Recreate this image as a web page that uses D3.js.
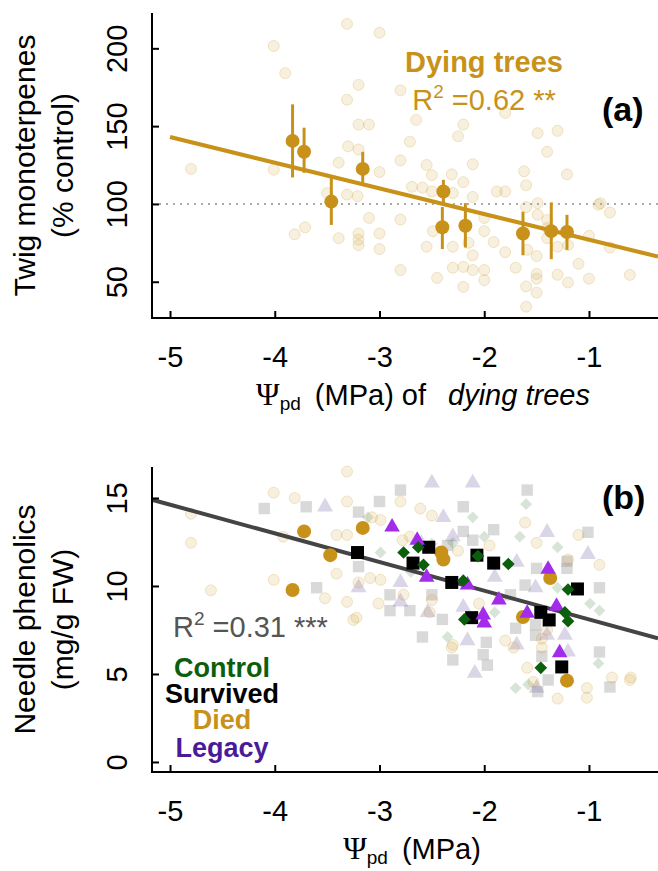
<!DOCTYPE html>
<html><head><meta charset="utf-8">
<script src="https://cdn.jsdelivr.net/npm/d3@7"></script>
<style>body{margin:0;background:#fff}svg{display:block}text{font-family:"Liberation Sans",Arial,sans-serif}</style>
</head><body><svg id="c" width="658" height="871"></svg>
<script>
// ---------- DATA ----------
const xTicks = [-5, -4, -3, -2, -1];
const yTicksA = [50, 100, 150, 200];
const yTicksB = [0, 5, 10, 15];

// Panel (a): individual dying-tree observations (x = Psi_pd, y = % control)
const aPtsX = [-4.80,-4.01,-3.90,-4.01,-3.81,-3.71,-3.50,-3.31,-3.00,-3.20,-3.31,-3.20,-3.10,-2.80,-2.65,-2.20,-2.25,-2.71,-1.80,-1.49,-1.30,-1.40,-3.30,-3.20,-3.39,-3.00,-2.80,-2.55,-2.50,-2.20,-2.11,-2.31,-2.69,-2.59,-2.50,-1.62,-1.60,-1.88,-1.80,-1.21,-1.60,-1.49,-0.89,-0.80,-3.31,-3.21,-3.39,-3.20,-3.20,-3.20,-3.00,-3.00,-3.10,-2.80,-2.80,-2.55,-2.49,-2.45,-2.30,-2.30,-2.20,-2.20,-2.11,-2.00,-2.00,-2.11,-2.15,-2.00,-2.00,-1.91,-1.80,-1.70,-1.59,-1.50,-1.50,-1.50,-1.60,-1.50,-1.60,-1.40,-1.40,-1.30,-1.20,-1.20,-1.10,-1.00,-1.00,-0.80,-0.91,-0.61,-2.30,-2.11,-1.49,-1.40,-1.30];
const aPtsY = [122.5,201.5,184,122,80.5,85,107,215.7,210,176.5,167,151,151,173,154,151,143.5,140,158.5,145.5,147,133.5,137,135,126.5,120.5,128,125,118.5,114,125.5,119,111,110.5,108,121,112,108,108,119,98,100.5,100.5,94.5,106,105,78,81,77,73.5,81,71,91,90,57.5,72.5,82.5,52.5,72.5,59,59.5,46.7,57.5,57.5,51,67,75,82.5,91,75.5,69,59,70.5,66.5,55,52,47,43,34,78,84.5,54.5,49.5,73.6,61.5,52,79.5,72,99.5,54.4,107,104.5,93,89.7,72.5];

// Panel (a): binned means with error bars
const aMeanX  = [-3.83,-3.72,-3.46,-3.16,-2.39,-2.40,-2.18,-1.63,-1.36,-1.21];
const aMeanY  = [140.5,133.5,101.5,122.5,108,85,86,81,82.5,82];
const aMeanLo = [117,120,86.5,113.5,100,71,72,67,64.5,70.5];
const aMeanHi = [164,149,117,133.5,115.5,98,100.5,95,101,93];

// Panel (a) regression: y = y0 + slope*(x - x0)
const regA = {x0: -5, y0: 143, slope: -16.5};
// Panel (b) regression: y = y0 + slope*(x + 5)
const regB = {y0: 14.62, slope: -1.63};

// Panel (b) background observations
const bDiedX = [-4.80,-4.80,-4.61,-4.01,-3.81,-4.01,-3.92,-3.52,-3.31,-3.31,-3.41,-3.31,-3.07,-2.99,-2.80,-2.61,-2.50,-3.41,-3.20,-3.09,-2.99,-3.31,-3.22,-3.01,-2.77,-2.52,-2.31,-2.78,-2.71,-1.61,-1.10,-0.90,-1.50,-1.80,-0.78,-0.60,-1.59,-1.53,-1.30,-1.02,-1.02,-0.61,-1.72,-2.30,-3.25,-2.05,-1.85,-1.40,-1.45,-1.45,-2.25,-1.95,-2.50,-1.20];
const bDiedY = [14.1,12.45,9.75,15.3,15.0,10.35,12.8,9.3,16.5,14.8,12.9,12.9,13.9,13.75,14.8,14.4,14.0,10.7,10.2,10.45,10.35,9.1,8.2,9.0,9.5,8.5,6.5,12.6,12.8,13.6,12.9,11.2,12.45,6.9,4.8,4.8,5.35,4.55,3.6,4.2,3.65,4.66,6.5,6.65,8.07,9.0,9.3,7.5,7.0,6.5,12.0,12.3,9.2,11.5];
const bSurvX = [-4.10,-3.70,-3.60,-2.80,-3.00,-3.20,-2.20,-2.20,-2.11,-3.20,-2.90,-2.90,-2.71,-2.50,-2.59,-2.40,-2.30,-2.01,-1.97,-1.59,-1.91,-1.01,-1.21,-1.21,-1.50,-1.61,-0.90,-1.70,-1.51,-1.51,-1.98,-0.90,-0.80,-1.49,-1.39,-2.35,-1.75,-1.45];
const bSurvY = [14.4,14.5,9.9,15.45,14.8,14.2,14.5,13.1,12.6,11.1,9.5,8.6,8.6,9.5,7.1,8.1,5.8,6.1,5.5,15.45,13.2,13.05,11.4,11.0,11.0,10.05,9.9,7.6,7.8,7.2,6.8,6.25,4.26,4.0,4.66,12.3,9.5,6.0];
const bLegX = [-3.52,-2.50,-2.11,-2.39,-2.80,-3.20,-2.54,-2.16,-2.09,-2.80,-1.40,-1.01,-1.69,-1.51,-1.23,-1.69,-1.20,-1.40,-1.50,-2.30,-2.60,-1.90,-2.20];
const bLegY = [14.5,15.85,15.85,13.9,10.2,9.9,8.5,6.9,5.05,9.1,13.05,11.8,11.35,9.9,7.2,6.65,6.25,7.2,4.2,12.8,12.4,10.5,8.8];
const bCtrlX = [-3.11,-2.11,-2.50,-2.99,-2.30,-2.35,-1.60,-1.66,-1.30,-0.99,-0.90,-0.91,-1.70,-1.58,-2.70,-1.90,-1.30,-2.00];
const bCtrlY = [13.9,13.9,12.4,11.9,12.45,7.1,14.65,12.8,12.2,9.0,8.6,5.6,4.2,4.4,10.8,8.5,9.9,12.8];

// Panel (b) group means
const mDiedX = [-3.83,-3.72,-3.47,-3.16,-2.41,-2.39,-1.63,-1.37,-1.21];
const mDiedY = [9.77,13.1,11.75,13.3,11.9,11.5,8.24,10.45,4.62];
const mSurvX = [-3.21,-2.68,-2.53,-2.07,-1.91,-2.31,-2.12,-1.46,-1.38,-1.11,-1.26];
const mSurvY = [11.9,11.3,12.2,11.75,11.3,10.2,8.2,8.5,8.07,9.83,5.4];
const mLegX = [-2.88,-2.64,-2.55,-2.16,-1.86,-2.01,-2.00,-1.59,-1.39,-1.31,-1.28];
const mLegY = [13.35,12.6,10.5,10.05,9.2,8.35,7.9,8.45,10.95,8.85,6.2];
const mCtrlX = [-2.77,-2.63,-2.58,-2.06,-1.77,-2.20,-2.19,-1.20,-1.23,-1.20,-1.46];
const mCtrlY = [11.9,12.2,11.2,11.7,11.25,10.3,8.1,9.8,8.5,8.0,5.35];

const legendLabels = ["Control", "Survived", "Died", "Legacy"];

// ---------- STYLE ----------
const GOLD = "#C8921A", GREEN = "#0B5E0B", PURPLE = "#A32CEB", LEGPURPLE = "#4B1A9A";
const FONT = 29;
const svg = d3.select("#c");

const L = 152, R = 658;
const x = d3.scaleLinear().domain([-5.172, -0.341]).range([L, R]);
const pA = {top: 13, bottom: 318};
const pB = {top: 467, bottom: 772};
const yA = d3.scaleLinear().domain([26.7, 222.7]).range([pA.bottom, pA.top]);
const yB = d3.scaleLinear().domain([-0.57, 16.76]).range([pB.bottom, pB.top]);

function axes(yScale, yTicks, p) {
  const gx = svg.append("g").attr("transform", `translate(0,${p.bottom})`)
    .call(d3.axisBottom(x).tickValues(xTicks).tickSize(-7).tickFormat(d => String(d)));
  gx.select(".domain").remove();
  gx.selectAll(".tick line").attr("stroke", "#000").attr("stroke-width", 2);
  gx.selectAll(".tick text").attr("y", 49).attr("dy", 0).attr("font-size", FONT)
    .attr("font-family", '"Liberation Sans",Arial,sans-serif').attr("fill", "#000");
  const gy = svg.append("g").attr("transform", `translate(${L},0)`)
    .call(d3.axisLeft(yScale).tickValues(yTicks).tickSize(-7).tickFormat(d => String(d)));
  gy.select(".domain").remove();
  gy.selectAll(".tick line").attr("stroke", "#000").attr("stroke-width", 2);
  gy.selectAll(".tick text").attr("x", 0).attr("y", 0).attr("dy", 0)
    .attr("text-anchor", "middle").attr("transform", "translate(-25,0) rotate(-90)")
    .attr("font-size", FONT).attr("font-family", '"Liberation Sans",Arial,sans-serif').attr("fill", "#000");
  svg.append("path").attr("d", `M${L},${p.top}V${p.bottom}H${R}`)
    .attr("fill", "none").attr("stroke", "#000").attr("stroke-width", 2);
}

function yTitle(lines, p) {
  const cy = (p.top + p.bottom) / 2;
  lines.forEach((t, i) => {
    svg.append("text").attr("transform", `translate(${i === 0 ? 35 : 73},${cy}) rotate(-90)`)
      .attr("text-anchor", "middle").attr("font-size", FONT + 1).text(t);
  });
}

// ---------- PANEL (a) ----------
const aPts = aPtsX.map((v, i) => ({x: v, y: aPtsY[i]}));
svg.append("g").selectAll("circle").data(aPts).join("circle")
  .attr("cx", d => x(d.x)).attr("cy", d => yA(d.y)).attr("r", 5.5)
  .attr("fill", GOLD).attr("fill-opacity", 0.14).attr("stroke", GOLD).attr("stroke-opacity", 0.22);

svg.append("line").attr("x1", L).attr("x2", R).attr("y1", yA(100)).attr("y2", yA(100))
  .attr("stroke", "#aaa").attr("stroke-width", 2).attr("stroke-dasharray", "2,5");

svg.append("line")
  .attr("x1", x(regA.x0)).attr("y1", yA(regA.y0))
  .attr("x2", x(x.domain()[1])).attr("y2", yA(regA.y0 + regA.slope * (x.domain()[1] - regA.x0)))
  .attr("stroke", GOLD).attr("stroke-width", 4);

const aMeans = aMeanX.map((v, i) => ({x: v, y: aMeanY[i], lo: aMeanLo[i], hi: aMeanHi[i]}));
svg.append("g").selectAll("line").data(aMeans).join("line")
  .attr("x1", d => x(d.x)).attr("x2", d => x(d.x)).attr("y1", d => yA(d.lo)).attr("y2", d => yA(d.hi))
  .attr("stroke", GOLD).attr("stroke-width", 3);
svg.append("g").selectAll("circle").data(aMeans).join("circle")
  .attr("cx", d => x(d.x)).attr("cy", d => yA(d.y)).attr("r", 7).attr("fill", GOLD);

axes(yA, yTicksA, pA);
yTitle(["Twig monoterpenes", "(% control)"], pA);

svg.append("text").attr("x", 484).attr("y", 72).attr("text-anchor", "middle")
  .attr("font-size", FONT).attr("font-weight", "bold").attr("fill", GOLD).text("Dying trees");
const r2a = svg.append("text").attr("x", 484).attr("y", 110).attr("text-anchor", "middle")
  .attr("font-size", FONT).attr("fill", GOLD);
r2a.append("tspan").text("R");
r2a.append("tspan").attr("font-size", 19).attr("dy", -12).text("2");
r2a.append("tspan").attr("dy", 12).text(" =0.62 **");
svg.append("text").attr("x", 602).attr("y", 121).attr("font-size", 34).attr("font-weight", "bold").text("(a)");

function xTitle(p, rest) {
  const t = svg.append("text").attr("y", p.bottom + 87).attr("font-size", FONT);
  t.append("tspan").attr("font-family", '"Liberation Serif","DejaVu Serif",serif').attr("font-size", 32).text("Ψ");
  t.append("tspan").attr("font-size", 19).attr("dy", 5).text("pd");
  t.append("tspan").attr("dy", -5).attr("dx", 14).text("(MPa)");
  rest(t);
  const w = t.node().getComputedTextLength();
  t.attr("x", (L + R) / 2 - w / 2);
}
xTitle(pA, t => {
  t.append("tspan").text(" of");
  t.append("tspan").attr("dx", 22).attr("font-style", "italic").text("dying trees");
});

// ---------- PANEL (b) ----------
const sq = (s) => d3.symbol().type(d3.symbolSquare).size(s)();
const tri = (s) => d3.symbol().type(d3.symbolTriangle).size(s)();
function pts(xs, ys) { return xs.map((v, i) => ({x: v, y: ys[i]})); }

const gBg = svg.append("g");
gBg.selectAll(".bs").data(pts(bSurvX, bSurvY)).join("path").attr("class", "bs")
  .attr("d", sq(130)).attr("transform", d => `translate(${x(d.x)},${yB(d.y)})`)
  .attr("fill", "#9a9a9a").attr("fill-opacity", 0.38);
gBg.selectAll(".bl").data(pts(bLegX, bLegY)).join("path").attr("class", "bl")
  .attr("d", tri(110)).attr("transform", d => `translate(${x(d.x)},${yB(d.y)})`)
  .attr("fill", "#6e5aa0").attr("fill-opacity", 0.25);
gBg.selectAll(".bc").data(pts(bCtrlX, bCtrlY)).join("path").attr("class", "bc")
  .attr("d", sq(70)).attr("transform", d => `translate(${x(d.x)},${yB(d.y)}) rotate(45)`)
  .attr("fill", "#3c783c").attr("fill-opacity", 0.2);
gBg.selectAll(".bd").data(pts(bDiedX, bDiedY)).join("circle").attr("class", "bd")
  .attr("cx", d => x(d.x)).attr("cy", d => yB(d.y)).attr("r", 5.5)
  .attr("fill", GOLD).attr("fill-opacity", 0.14).attr("stroke", GOLD).attr("stroke-opacity", 0.22);

const bx0 = x.domain()[0], bx1 = x.domain()[1];
svg.append("line")
  .attr("x1", x(bx0)).attr("y1", yB(regB.y0 + regB.slope * (bx0 + 5)))
  .attr("x2", x(bx1)).attr("y2", yB(regB.y0 + regB.slope * (bx1 + 5)))
  .attr("stroke", "#444").attr("stroke-width", 4);

const gM = svg.append("g");
gM.selectAll(".md").data(pts(mDiedX, mDiedY)).join("circle").attr("class", "md")
  .attr("cx", d => x(d.x)).attr("cy", d => yB(d.y)).attr("r", 7).attr("fill", GOLD);
gM.selectAll(".ms").data(pts(mSurvX, mSurvY)).join("path").attr("class", "ms")
  .attr("d", sq(169)).attr("transform", d => `translate(${x(d.x)},${yB(d.y)})`).attr("fill", "#000");
gM.selectAll(".ml").data(pts(mLegX, mLegY)).join("path").attr("class", "ml")
  .attr("d", tri(105)).attr("transform", d => `translate(${x(d.x)},${yB(d.y)})`).attr("fill", PURPLE);
gM.selectAll(".mc").data(pts(mCtrlX, mCtrlY)).join("path").attr("class", "mc")
  .attr("d", sq(80)).attr("transform", d => `translate(${x(d.x)},${yB(d.y)}) rotate(45)`).attr("fill", GREEN);

axes(yB, yTicksB, pB);
yTitle(["Needle phenolics", "(mg/g FW)"], pB);

const r2b = svg.append("text").attr("x", 173).attr("y", 637).attr("font-size", FONT).attr("fill", "#555");
r2b.append("tspan").text("R");
r2b.append("tspan").attr("font-size", 19).attr("dy", -12).text("2");
r2b.append("tspan").attr("dy", 12).text(" =0.31 ***");
svg.append("text").attr("x", 602).attr("y", 509).attr("font-size", 34).attr("font-weight", "bold").text("(b)");

const legColors = [GREEN, "#000", GOLD, LEGPURPLE];
const legY = [677, 703, 729, 757];
legendLabels.forEach((t, i) => {
  svg.append("text").attr("x", 222).attr("y", legY[i]).attr("text-anchor", "middle")
    .attr("font-size", 27).attr("font-weight", "bold").attr("fill", legColors[i]).text(t);
});

xTitle(pB, t => {});
</script></body></html>
